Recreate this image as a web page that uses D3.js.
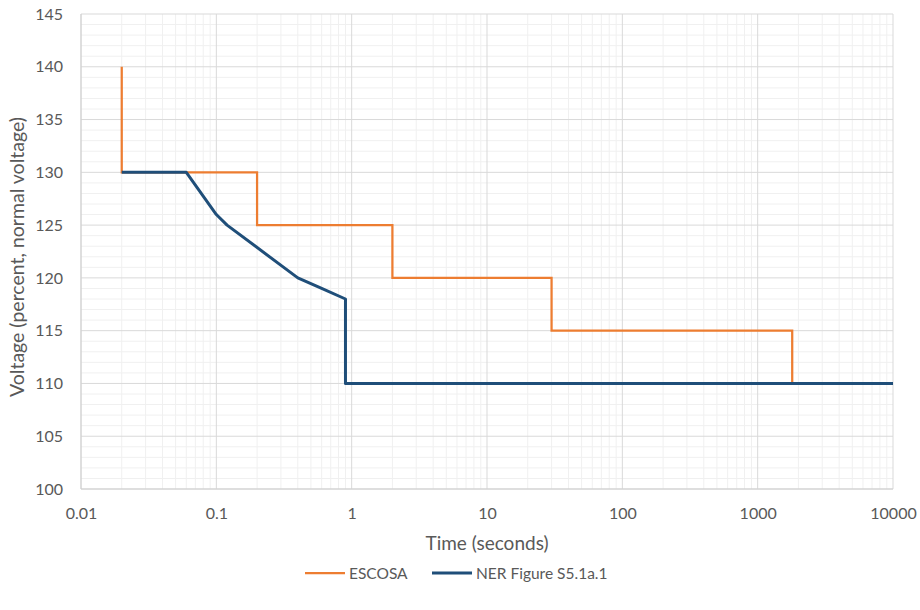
<!DOCTYPE html>
<html><head><meta charset="utf-8">
<script src="https://cdn.jsdelivr.net/npm/d3@7"></script>
<style>body{margin:0;background:#fff}svg text{font-family:Lato,"Open Sans",sans-serif;fill:#595959}</style>
</head><body><svg id="c" width="920" height="610"></svg>
<script>
const xTicks = [0.01, 0.1, 1, 10, 100, 1000, 10000];
const xTickLabels = ["0.01", "0.1", "1", "10", "100", "1000", "10000"];
const yTicks = [100, 105, 110, 115, 120, 125, 130, 135, 140, 145];
const escosaTime = [0.02, 0.02, 0.2, 0.2, 2, 2, 30, 30, 1800, 1800];
const escosaVolt = [140, 130, 130, 125, 125, 120, 120, 115, 115, 110];
const nerTime = [0.02, 0.06, 0.1, 0.12, 0.4, 0.6, 0.9, 0.9, 10000];
const nerVolt = [130, 130, 126, 125, 120, 119, 118, 110, 110];
const seriesNames = ["ESCOSA", "NER Figure S5.1a.1"];
const seriesColors = ["#ED7D31", "#1F4E79"];

const svg = d3.select("#c");
const L = 81, R = 893, T = 14, B = 489;
const x = d3.scaleLog().domain([0.01, 10000]).range([L, R]);
const y = d3.scaleLinear().domain([100, 145]).range([B, T]);

// minor grid
const minorX = [];
for (let e = -2; e < 4; e++) for (let k = 2; k <= 9; k++) minorX.push(k * Math.pow(10, e));
const minorY = d3.range(100, 146, 1).filter(v => v % 5 !== 0);
const g = svg.append("g");
g.selectAll(".mx").data(minorX).enter().append("line")
  .attr("x1", d => x(d)).attr("x2", d => x(d)).attr("y1", T).attr("y2", B)
  .attr("stroke", "#f0f0f0").attr("stroke-width", 1);
g.selectAll(".my").data(minorY).enter().append("line")
  .attr("y1", d => y(d)).attr("y2", d => y(d)).attr("x1", L).attr("x2", R)
  .attr("stroke", "#f0f0f0").attr("stroke-width", 1);
g.selectAll(".MX").data(xTicks).enter().append("line")
  .attr("x1", d => x(d)).attr("x2", d => x(d)).attr("y1", T).attr("y2", B)
  .attr("stroke", "#d9d9d9").attr("stroke-width", 1);
g.selectAll(".MY").data(yTicks).enter().append("line")
  .attr("y1", d => y(d)).attr("y2", d => y(d)).attr("x1", L).attr("x2", R)
  .attr("stroke", "#d9d9d9").attr("stroke-width", 1);

// axes labels via d3 axes
const xAxis = d3.axisBottom(x).tickValues(xTicks).tickFormat((d, i) => xTickLabels[i]).tickSize(0).tickPadding(19);
const xa = svg.append("g").attr("transform", `translate(0,${B})`).call(xAxis);
xa.select(".domain").remove();
xa.selectAll("text").attr("font-size", 16).style("font-family", "Lato,'Open Sans',sans-serif").attr("fill", "#595959");
const yAxis = d3.axisLeft(y).tickValues(yTicks).tickSize(0).tickPadding(18);
const ya = svg.append("g").attr("transform", `translate(${L},0)`).call(yAxis);
ya.select(".domain").remove();
ya.selectAll("text").attr("font-size", 16).style("font-family", "Lato,'Open Sans',sans-serif").attr("fill", "#595959");

// axis lines
svg.append("line").attr("x1", L).attr("x2", R).attr("y1", B).attr("y2", B).attr("stroke", "#d0d0d0");
svg.append("line").attr("x1", L).attr("x2", L).attr("y1", T).attr("y2", B).attr("stroke", "#d0d0d0");

// titles
svg.append("text").attr("x", 487).attr("y", 550).attr("text-anchor", "middle").attr("font-size", 19).text("Time (seconds)");
svg.append("text").attr("transform", "translate(24,257) rotate(-90)").attr("text-anchor", "middle").attr("font-size", 19.5).text("Voltage (percent, normal voltage)");

// series
const line = d3.line().x(d => x(d[0])).y(d => y(d[1]));
const esc = escosaTime.map((t, i) => [t, escosaVolt[i]]);
const ner = nerTime.map((t, i) => [t, nerVolt[i]]);
svg.append("path").datum(esc).attr("d", line).attr("fill", "none").attr("stroke", seriesColors[0]).attr("stroke-width", 2.25);
svg.append("path").datum(ner).attr("d", line).attr("fill", "none").attr("stroke", seriesColors[1]).attr("stroke-width", 3).attr("stroke-linejoin", "round");

// legend
const legX = [305, 432];
seriesNames.forEach((n, i) => {
  svg.append("line").attr("x1", legX[i]).attr("x2", legX[i] + 40).attr("y1", 573).attr("y2", 573)
    .attr("stroke", seriesColors[i]).attr("stroke-width", i ? 3 : 2.25);
  svg.append("text").attr("x", legX[i] + 44).attr("y", 579).attr("font-size", 15.5).text(n);
});
</script></body></html>
